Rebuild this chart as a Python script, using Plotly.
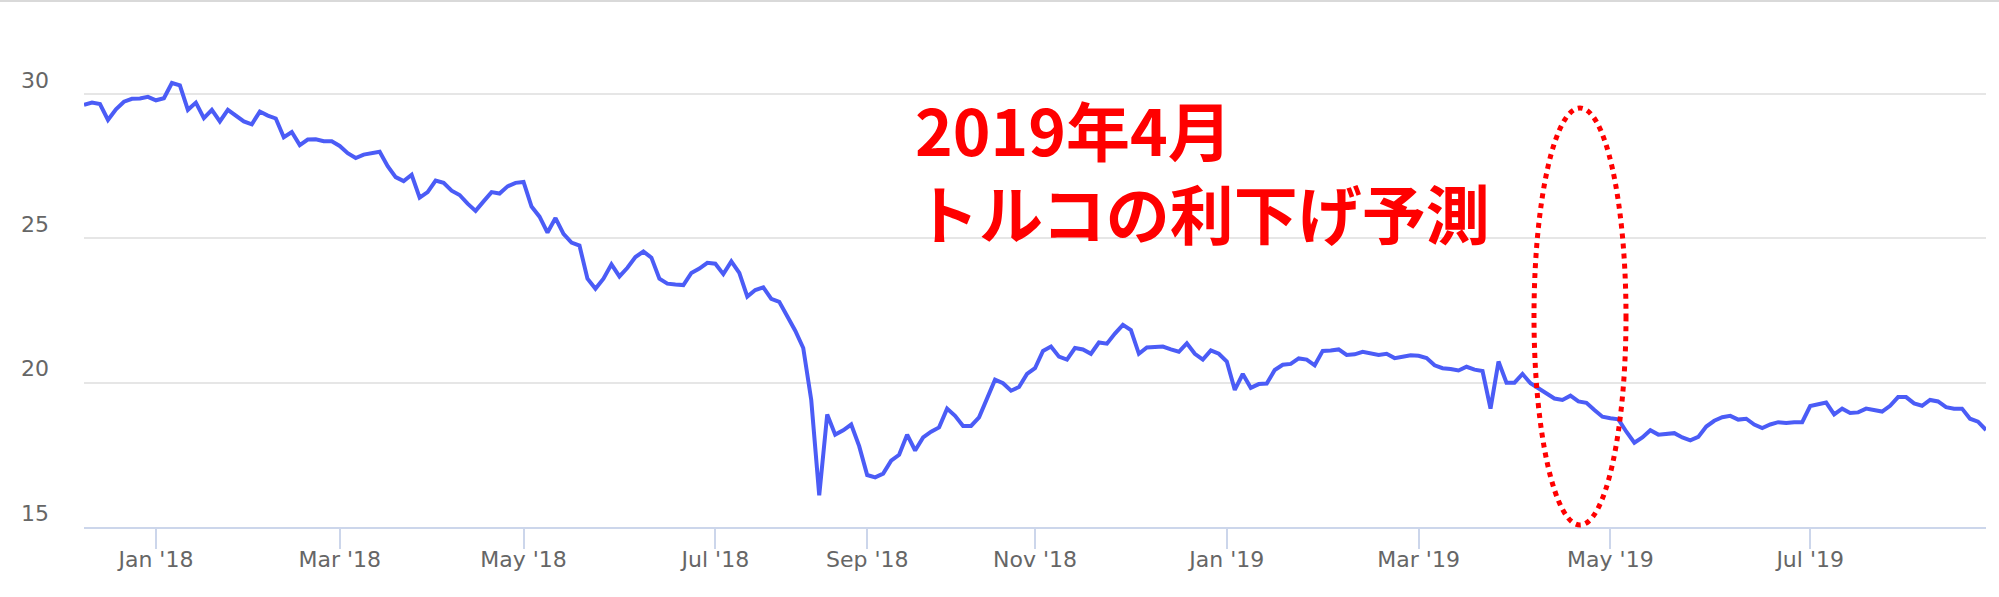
import numpy as np
import pandas as pd
import plotly.graph_objects as go

# ---- data: JPY per TRY, one list per two-month period ----
period_bounds = ["2017-12-08", "2018-01-01", "2018-03-01", "2018-05-01", "2018-07-01",
                 "2018-09-01", "2018-11-01", "2019-01-01", "2019-03-01", "2019-05-01",
                 "2019-07-01", "2019-08-24"]

values_2017_dec = [29.62, 29.70, 29.65, 29.10, 29.47, 29.73, 29.83, 29.84, 29.90]
values_2018_janfeb = [29.78, 29.85, 30.38, 30.30, 29.45, 29.70, 29.16, 29.45, 29.05, 29.45,
                      29.26, 29.05, 28.95, 29.39, 29.25, 29.15, 28.50, 28.68, 28.23, 28.42,
                      28.43, 28.36, 28.36]
values_2018_marapr = [28.20, 27.95, 27.78, 27.90, 27.95, 28.00, 27.50, 27.12, 26.98, 27.20,
                      26.41, 26.60, 27.00, 26.92, 26.65, 26.50, 26.20, 25.95, 26.28, 26.60,
                      26.55, 26.80, 26.92]
values_2018_mayjun = [26.95, 26.10, 25.75, 25.20, 25.70, 25.15, 24.85, 24.75, 23.60, 23.25,
                      23.60, 24.10, 23.68, 23.98, 24.35, 24.54, 24.33, 23.60, 23.43, 23.40,
                      23.38, 23.80, 23.95, 24.15]
values_2018_julaug = [24.12, 23.76, 24.20, 23.80, 22.98, 23.21, 23.30, 22.90, 22.80, 22.30,
                      21.80, 21.20, 19.40, 16.10, 18.90, 18.20, 18.35, 18.55, 17.80]
values_2018_sepoct = [16.80, 16.72, 16.85, 17.30, 17.50, 18.20, 17.65, 18.10, 18.30, 18.45,
                      19.10, 18.85, 18.50, 18.50, 18.80, 19.45, 20.10, 19.98, 19.72, 19.85,
                      20.30]
values_2018_novdec = [20.50, 21.10, 21.25, 20.90, 20.80, 21.20, 21.15, 21.00, 21.39, 21.35,
                      21.70, 22.00, 21.82, 21.00, 21.22, 21.25, 21.25, 21.15, 21.07, 21.36,
                      21.00, 20.80, 21.12, 21.00]
values_2019_janfeb = [20.73, 19.75, 20.30, 19.82, 19.95, 19.97, 20.44, 20.62, 20.65, 20.84,
                      20.80, 20.60, 21.10, 21.11, 21.15, 20.96, 20.98, 21.07, 21.03, 20.96,
                      21.00, 20.85, 20.90, 20.95]
values_2019_marapr = [20.93, 20.85, 20.60, 20.50, 20.47, 20.42, 20.55, 20.45, 20.40, 19.10,
                      20.73, 20.00, 20.00, 20.30, 19.98, 19.80, 19.60, 19.45, 19.40, 19.55,
                      19.35, 19.30, 19.05, 18.82]
values_2019_mayjun = [18.77, 18.73, 18.30, 17.92, 18.10, 18.35, 18.20, 18.22, 18.25, 18.10,
                      18.00, 18.12, 18.48, 18.68, 18.80, 18.85, 18.72, 18.75, 18.55, 18.43,
                      18.55, 18.63, 18.60, 18.63, 18.63]
values_2019_julaug = [19.19, 19.25, 19.31, 18.90, 19.10, 18.95, 18.97, 19.10, 19.05, 19.00,
                      19.20, 19.50, 19.50, 19.28, 19.20, 19.40, 19.35, 19.15, 19.10, 19.10,
                      18.75, 18.65, 18.36]

period_values = [values_2017_dec, values_2018_janfeb, values_2018_marapr, values_2018_mayjun,
                 values_2018_julaug, values_2018_sepoct, values_2018_novdec, values_2019_janfeb,
                 values_2019_marapr, values_2019_mayjun, values_2019_julaug]

tick_labels = ["Jan '18", "Mar '18", "May '18", "Jul '18", "Sep '18", "Nov '18",
               "Jan '19", "Mar '19", "May '19", "Jul '19"]
y_ticks = [15, 20, 25, 30]

note_line1 = "2019年4月"
note_line2 = "トルコの利下げ予測"

# ---- trading-day categories (ordinal axis, like the original) ----
dates, values, period_first = [], [], []
for k, vals in enumerate(period_values):
    bd = pd.bdate_range(period_bounds[k], pd.Timestamp(period_bounds[k + 1]) - pd.Timedelta(days=1))
    idx = np.linspace(0, len(bd) - 1, len(vals)).round().astype(int)
    ds = [bd[i].strftime("%Y-%m-%d") for i in idx]
    period_first.append(ds[0])
    dates.extend(ds)
    values.extend(vals)

tick_vals = period_first[1:]

W, H = 1999, 597
ML, MR, MT, MB = 84, 13, 10, 70
plot_h = H - MT - MB
px_per_unit = 28.87
y_top = 15 + plot_h / px_per_unit

fig = go.Figure()
fig.add_trace(go.Scatter(
    x=dates, y=values, mode="lines",
    line=dict(color="#4b5cf6", width=4),
    hoverinfo="skip", showlegend=False,
))

label_font = dict(family="DejaVu Sans", size=22, color="#666666")

fig.update_layout(
    width=W, height=H,
    margin=dict(l=ML, r=MR, t=MT, b=MB),
    paper_bgcolor="white", plot_bgcolor="white",
    showlegend=False,
    xaxis=dict(
        type="category", range=[0, len(dates) - 1],
        tickmode="array", tickvals=tick_vals, ticktext=tick_labels,
        ticks="outside", ticklen=20, tickwidth=2, tickcolor="#ccd6eb",
        showline=True, linecolor="#ccd6eb", linewidth=2,
        showgrid=False, zeroline=False, tickfont=label_font,
        ticklabelstandoff=-8,
    ),
    yaxis=dict(
        range=[15, y_top], tickmode="array", tickvals=y_ticks,
        showgrid=True, gridcolor="#e6e6e6", gridwidth=2,
        zeroline=False, showline=False, ticks="",
        tickfont=label_font, ticklabelstandoff=34, ticklabelshift=-14,
    ),
)

fw = W - ML - MR
def px_x(p):
    return (p - ML) / fw
def px_y(p):
    return (H - MB - p) / plot_h

fig.add_annotation(text=note_line1 + "<br>" + note_line2,
                   xref="paper", yref="paper", x=px_x(913), y=px_y(169),
                   xanchor="left", yanchor="middle", align="left", showarrow=False,
                   font=dict(family="Noto Sans CJK JP", size=64, color="#ff0000", weight=700))

# dotted ellipse around April 2019
fig.add_shape(type="circle", xref="paper", yref="paper",
              x0=px_x(1534), x1=px_x(1626), y0=px_y(525), y1=px_y(108),
              line=dict(color="#ff0000", width=5, dash="dot"))

# thin frame line at top of the picture
fig.add_shape(type="line", xref="paper", yref="paper",
              x0=px_x(0), x1=px_x(W), y0=px_y(1), y1=px_y(1),
              line=dict(color="#d9d9d9", width=2))

fig.write_html("out.html", config={"displayModeBar": False},
               post_script="document.body.style.margin='0';")
